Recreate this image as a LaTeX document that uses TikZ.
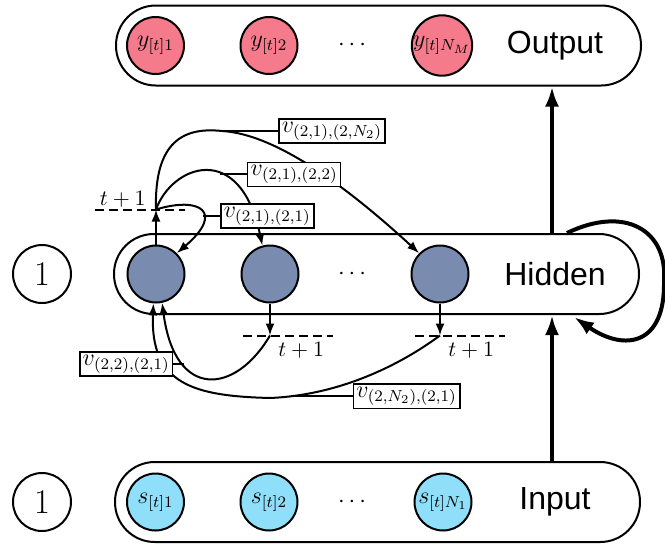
\documentclass[tikz,border=0pt]{standalone}
\usepackage{fontspec}
\newfontfamily\layerfont{Liberation Sans}
\usepackage{tikz}
\usetikzlibrary{calc}
\usetikzlibrary{positioning}
\usetikzlibrary{arrows.meta}
\definecolor{hidfill}{RGB}{122,139,176}
\definecolor{outfill}{RGB}{244,122,140}
\definecolor{infill}{RGB}{143,223,250}
\tikzstyle{layerbox} = [draw,line width=1pt,rounded corners=19.9pt,minimum width=262.5pt,minimum height=40pt]
\tikzstyle{layername} = [font=\layerfont\fontsize{16}{18}\selectfont]
\tikzstyle{neuron} = [circle,draw,line width=1pt,minimum size=28.5pt,inner sep=0pt,font=\fontsize{11.5}{13}\selectfont]
\tikzstyle{biasnode} = [circle,draw,line width=1pt,minimum size=29pt,inner sep=0pt,font=\fontsize{17}{20}\selectfont]
\tikzstyle{wlabel} = [draw,fill=white,line width=0.8pt,inner sep=1.5pt,font=\fontsize{11.5}{13}\selectfont]
\tikzstyle{tlabel} = [inner sep=1pt,font=\fontsize{11}{13}\selectfont]
\tikzstyle{dots} = [font=\fontsize{12}{14}\selectfont]
\tikzstyle{arrow} = [line width=1pt,-{Latex[length=6pt,width=4.5pt]}]
\tikzstyle{bigarrow} = [line width=2pt,-{Latex[length=10pt,width=7pt]}]
\tikzstyle{nextstep} = [line width=1pt,dash pattern=on 4.5pt off 2.5pt]

\begin{document}
\begin{tikzpicture}[x=0.5pt,y=-0.5pt]
	\useasboundingbox (0,0) rectangle (665,543);
	\node[layerbox] (outbox) at (378.5,45.5) {};
	\node[layerbox] (hidbox) at (376.5,274) {};
	\node[layerbox] (inbox) at (377.5,502) {};
	\node[layername] (outname) at (555,45.5) {Output};
	\node[layername] (hidname) at (555,274) {Hidden};
	\node[layername] (inname) at (555,502) {Input};
	\node[neuron,fill=outfill] (y1) at (155.5,45.5) {$y_{[t]1}$};
	\node[neuron,fill=outfill] (y2) at (269,45.5) {$y_{[t]2}$};
	\node[neuron,fill=outfill] (yM) at (442,45.5) {$y_{[t]N_M}$};
	\node[dots] (ydots) at (352,45.5) {$\cdots$};
	\node[neuron,fill=hidfill] (h1) at (156,274) {};
	\node[neuron,fill=hidfill] (h2) at (270,274) {};
	\node[neuron,fill=hidfill] (hN) at (440,274) {};
	\node[dots] (hdots) at (352,274) {$\cdots$};
	\node[neuron,fill=infill] (s1) at (155.5,502) {$s_{[t]1}$};
	\node[neuron,fill=infill] (s2) at (269,502) {$s_{[t]2}$};
	\node[neuron,fill=infill] (sN) at (443,502) {$s_{[t]N_1}$};
	\node[dots] (sdots) at (352,502) {$\cdots$};
	\node[biasnode] (bhid) at (42,274) {$1$};
	\node[biasnode] (bin) at (42,502) {$1$};
	% layer to layer
	\coordinate (ax) at (552,0);
	\draw[bigarrow] (inbox.north -| ax) -- (hidbox.south -| ax);
	\draw[bigarrow] (hidbox.north -| ax) -- (outbox.south -| ax);
	\coordinate (loopout) at ($(hidbox.north east)+(-73,0)$);
	\coordinate (loopin) at ($(hidbox.south east)+(-66,2)$);
	\draw[bigarrow] (loopout) .. controls (625,205) and (668,230) .. (664,282) .. controls (665,345) and (625,352) .. (loopin);
	% one step later
	\coordinate (p1) at ($(h1.north)+(0,-35)$);
	\coordinate (p2) at ($(h2.south)+(0,32)$);
	\coordinate (p3) at ($(hN.south)+(0,32)$);
	\draw[nextstep] ($(p1)+(-61,0)$) -- ($(p1)+(29,0)$);
	\draw[nextstep] ($(p2)+(-27,0)$) -- ($(p2)+(63,0)$);
	\draw[nextstep] ($(p3)+(-25,0)$) -- ($(p3)+(65,0)$);
	\node[tlabel,above left=0pt and 4pt of p1] (t1) {$t+1$};
	\node[tlabel,below right=2pt and 3pt of p2] (t2) {$t+1$};
	\node[tlabel,below right=2pt and 3pt of p3] (t3) {$t+1$};
	\draw[arrow] (h1) -- (p1);
	\draw[arrow] (h2) -- (p2);
	\draw[arrow] (hN) -- (p3);
	\coordinate (c1N) at (222,131);
	\draw[arrow] (p1) .. controls (200,196) and (225,212) .. coordinate[pos=0.6] (c11) (h1.north east);
	\draw[arrow] (p1) .. controls (172,165) and (240,140) .. coordinate[pos=0.6] (c12) (h2.105);
	\draw[arrow] (p1) .. controls (154,140) and (185,127) .. (c1N) .. controls (275,134) and (345,185) .. (hN.north west);
	\draw[arrow] (p2) .. controls (235,395) and (175,400) .. coordinate[pos=0.7] (c21) (h1.-78);
	\draw[arrow] (p3) .. controls (400,365) and (340,395) .. coordinate[pos=0.9] (cN1) (270,398) .. controls (195,396) and (150,385) .. (h1.-95);
	\node[wlabel,right=8.5pt of c11] (w11) {$v_{(2,1),(2,1)}$};
	\node[wlabel,right=13.5pt of c12] (w12) {$v_{(2,1),(2,2)}$};
	\node[wlabel,right=28pt of c1N] (w1N) {$v_{(2,1),(2,N_2)}$};
	\node[wlabel,left=5.5pt of c21] (w21) {$v_{(2,2),(2,1)}$};
	\node[wlabel,right=31pt of cN1] (wN1) {$v_{(2,N_2),(2,1)}$};
	\draw[line width=1pt] (c11) -- (w11);
	\draw[line width=1pt] (c12) -- (w12);
	\draw[line width=1pt] (c1N) -- (w1N);
	\draw[line width=1pt] (c21) -- (w21);
	\draw[line width=1pt] (cN1) -- (wN1);
\end{tikzpicture}
\end{document}
